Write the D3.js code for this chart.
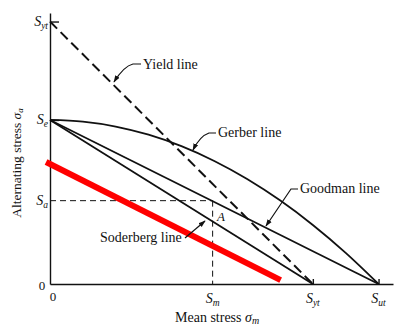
<!DOCTYPE html>
<html><head><meta charset="utf-8">
<script src="https://cdn.jsdelivr.net/npm/d3@7"></script>
<style>body{margin:0;background:#fff}svg{display:block}text{font-family:"Liberation Serif","DejaVu Serif",serif;fill:#111}</style>
</head><body><svg id="c" width="395" height="327"></svg>
<script>
// ---- data (abstract stress units) ----
const Se = 50, Syt = 80, Sut = 100;
const Sm = 49.5, Sa = 25.4;
const yieldLine = [[0, Syt], [Syt, 0]];
const goodmanLine = [[0, Se], [Sut, 0]];
const soderbergLine = [[0, Se], [Syt, 0]];
const gerberM = [0, 10, 20, 30, 40, 50, 60, 70, 80, 90, 100];
const gerberA = [50, 49.5, 48, 45.5, 42, 37.5, 32, 25.5, 18, 9.5, 0];
const redLine = [[-1.2, 37.2], [70.2, 1.2]];
const xTicks = [Sm, Syt, Sut];
const xTickLabels = [["S","m"], ["S","yt"], ["S","ut"]];
const yTicks = [Syt, Se, Sa];
const yTickLabels = [["S","yt"], ["S","e"], ["S","a"]];

const svg = d3.select("#c");
const sx = d3.scaleLinear().domain([0, 104.4]).range([50, 393]);
const sy = d3.scaleLinear().domain([0, 82.6]).range([284, 13]);
const line = d3.line().x(d => sx(d[0])).y(d => sy(d[1]));

svg.append("defs").append("marker").attr("id","ar").attr("viewBox","0 0 10 10")
  .attr("refX",9).attr("refY",5).attr("markerWidth",6).attr("markerHeight",6)
  .attr("orient","auto").append("path").attr("d","M0,1.5L10,5L0,8.5Z").attr("fill","#111");

// axes
const xAxis = d3.axisBottom(sx).tickValues([Syt, Sut]).tickSizeInner(-5).tickSizeOuter(0).tickFormat("");
const gx = svg.append("g").attr("transform","translate(0,284)").call(xAxis);
const yAxis = d3.axisLeft(sy).tickValues([Syt, Se]).tickSizeInner(-9).tickSizeOuter(0).tickFormat("");
const gy = svg.append("g").attr("transform","translate(50,0)").call(yAxis);
[gx, gy].forEach(g => { g.selectAll("path,line").attr("stroke","#111").attr("stroke-width",1.4); });

function sLabel(sel, lab, size) {
  sel.append("tspan").text(lab[0]).attr("font-style","italic").attr("font-size", size);
  sel.append("tspan").text(lab[1]).attr("font-style","italic").attr("font-size", size*0.68).attr("dy", 3);
}
xTicks.forEach((v, i) => {
  const t = svg.append("text").attr("x", sx(v)).attr("y", 303).attr("text-anchor","middle");
  sLabel(t, xTickLabels[i], 14);
});
yTicks.forEach((v, i) => {
  const t = svg.append("text").attr("x", 48).attr("y", sy(v) + 4).attr("text-anchor","end");
  sLabel(t, yTickLabels[i], 14);
});
svg.append("text").attr("x", 42).attr("y", 290).attr("text-anchor","middle").attr("font-size",13).text("0");
svg.append("text").attr("x", 53).attr("y", 301).attr("text-anchor","middle").attr("font-size",13).text("0");

// dashed guides
svg.append("path").attr("d", line([[0, Sa], [Sm, Sa]])).attr("fill","none").attr("stroke","#111")
  .attr("stroke-width",1).attr("stroke-dasharray","6,4");
svg.append("path").attr("d", line([[Sm, Sa], [Sm, 0]])).attr("fill","none").attr("stroke","#111")
  .attr("stroke-width",1).attr("stroke-dasharray","6,4");

// lines
svg.append("path").attr("d", line(yieldLine)).attr("fill","none").attr("stroke","#111")
  .attr("stroke-width",2).attr("stroke-dasharray","10,5");
svg.append("path").attr("d", line(goodmanLine)).attr("fill","none").attr("stroke","#111").attr("stroke-width",1.8);
svg.append("path").attr("d", line(soderbergLine)).attr("fill","none").attr("stroke","#111").attr("stroke-width",1.8);
const gerber = gerberM.map((m, i) => [m, gerberA[i]]);
svg.append("path").attr("d", d3.line().x(d => sx(d[0])).y(d => sy(d[1])).curve(d3.curveMonotoneX)(gerber))
  .attr("fill","none").attr("stroke","#111").attr("stroke-width",1.8);
svg.append("path").attr("d", line(redLine)).attr("fill","none").attr("stroke","#ff0000").attr("stroke-width",6);

// annotations
function leader(d) {
  svg.append("path").attr("d", d).attr("fill","none").attr("stroke","#111").attr("stroke-width",1.2).attr("marker-end","url(#ar)");
}
const fs = 14;
svg.append("text").attr("x",143).attr("y",69).attr("font-size",fs).text("Yield line");
leader("M141,64 L133,64 Q124,66 114,82");
svg.append("text").attr("x",218).attr("y",137).attr("font-size",fs).text("Gerber line");
leader("M216,133 L209,133 Q200,136 193,150");
svg.append("text").attr("x",300).attr("y",193).attr("font-size",fs).text("Goodman line");
leader("M298,189 L291,189 L266,226");
svg.append("text").attr("x",100).attr("y",242).attr("font-size",fs).text("Soderberg line");
leader("M185,238 L205,221");
svg.append("text").attr("x",217).attr("y",221).attr("font-size",13).attr("font-style","italic").text("A");

// axis titles
const xt = svg.append("text").attr("x",175).attr("y",322).attr("font-size",14);
xt.append("tspan").text("Mean stress ");
xt.append("tspan").text("σ").attr("font-style","italic");
xt.append("tspan").text("m").attr("font-style","italic").attr("font-size",10).attr("dy",2);
const yt = svg.append("text").attr("transform","translate(21,163) rotate(-90)").attr("text-anchor","middle").attr("font-size",13.5);
yt.append("tspan").text("Alternating stress ");
yt.append("tspan").text("σ").attr("font-style","italic");
yt.append("tspan").text("a").attr("font-style","italic").attr("font-size",9).attr("dy",2);
</script></body></html>
